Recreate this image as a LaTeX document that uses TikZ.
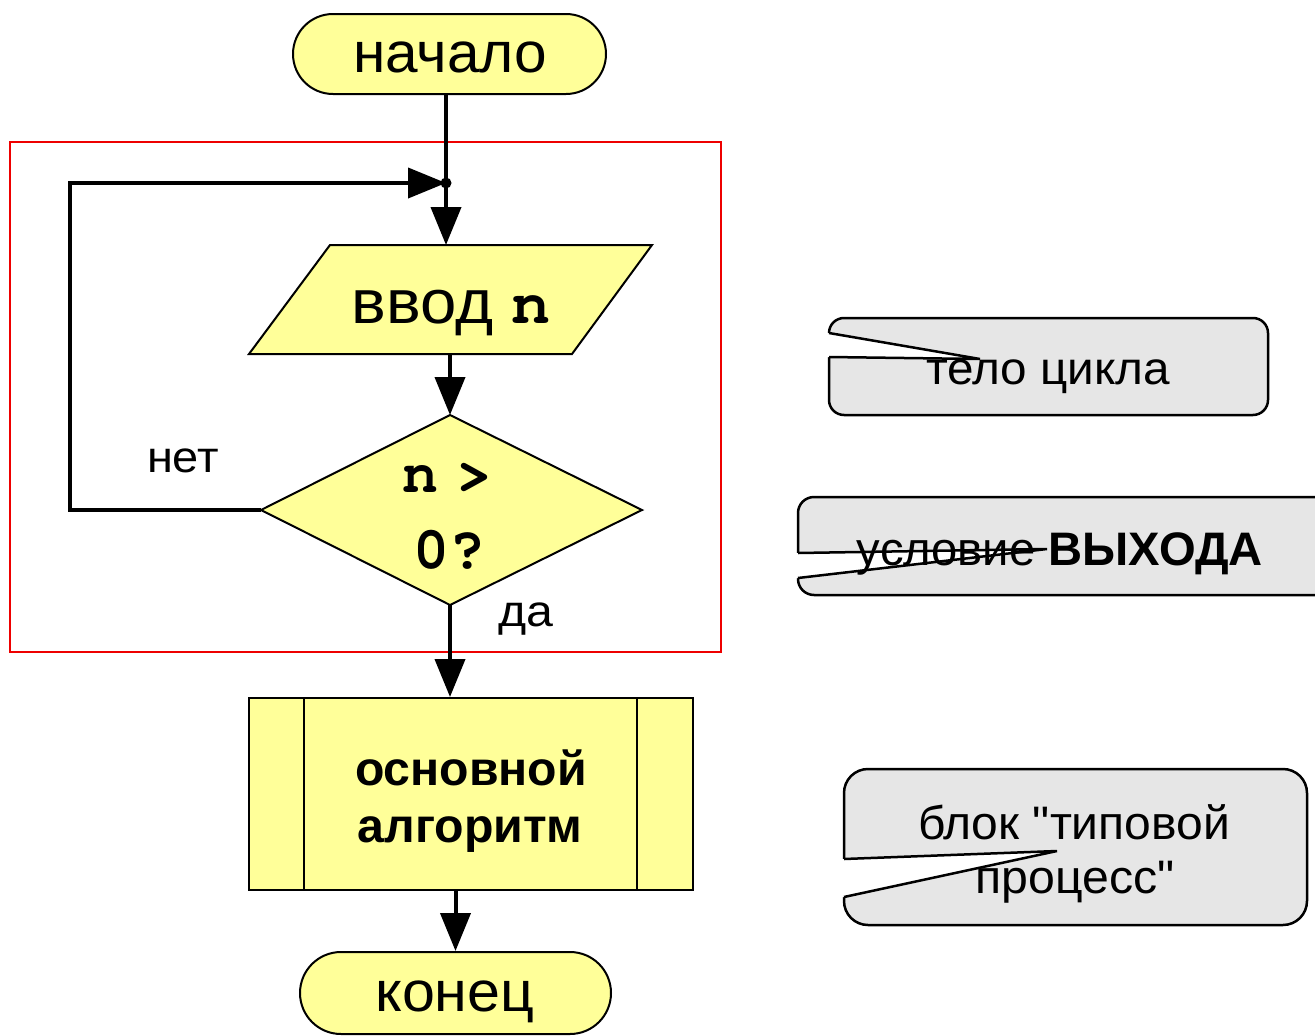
\documentclass[tikz,border=0pt]{standalone}
\usepackage{fontspec}
\setmainfont{Liberation Sans}
\setmonofont{Liberation Mono}
\newfontfamily\plainsans{Liberation Sans}
\newfontfamily\cour{TeX Gyre Cursor}
\usepackage{graphicx}
\usetikzlibrary{arrows.meta}
\definecolor{fy}{HTML}{FFFF99}
\definecolor{cg}{HTML}{E6E6E6}
\definecolor{fr}{HTML}{EE0000}
\newcommand\fitw[3]{\resizebox{#2pt}{\height}{\fontsize{#1pt}{#1pt}\selectfont #3}}
\newcommand\fsz[2]{{\fontsize{#1pt}{#1pt}\selectfont #2}}
\begin{document}
\begin{tikzpicture}[x=1pt,y=-1pt,
  conn/.style={line width=4pt,-{Triangle[length=38pt,width=30pt]}},
  plainconn/.style={line width=4pt},
  shapeline/.style={draw=black,line width=2pt,fill=fy},
  txt/.style={anchor=base,inner sep=0pt},
  callout/.style={draw=black,line width=2.5pt,fill=cg},
  notchline/.style={draw=black,line width=2.5pt},
  notchfill/.style={fill=white}]
\useasboundingbox (0,0) rectangle (1315,1036);
\clip (0,0) rectangle (1315,1036);
\fill[white] (0,0) rectangle (1315,1036);

% red frame
\draw[fr,line width=1.5pt] (10,142) rectangle (721,652);

% start terminator
\node[shapeline,rounded corners=40pt,minimum width=313pt,minimum height=80pt,inner sep=0pt] (start) at (449.5,54) {};
\node[txt] (tstart) at (450,72) {\fitw{57}{194}{начало}};

% junction
\coordinate (j) at (446,183);
\coordinate (lp) at (70,183);

% input parallelogram
\draw[shapeline] (330,245) -- (652,245) -- (572,354) -- (249,354) -- cycle;
\coordinate (pin) at (446,245);
\coordinate (pout) at (450,354);
\node[txt] (tin) at (451,323) {\fitw{62}{199}{ввод {\cour\bfseries n}}};

% decision diamond
\draw[shapeline] (450,415) -- (642,510) -- (450,605) -- (261,510) -- cycle;
\coordinate (dt) at (450,415);
\coordinate (dl) at (261,510);
\coordinate (db) at (450,605);
\node[txt] (tcond1) at (447,492) {\fsz{60}{\cour\bfseries n\kern18pt>}};
\node[txt] (tcond2) at (449,568) {\fsz{60}{\cour\bfseries 0?}};
\node[txt] (tno) at (183,472) {\fitw{44}{72}{нет}};
\node[txt] (tyes) at (526,626) {\fitw{44}{55}{да}};

% process box
\node[shapeline,minimum width=444pt,minimum height=192pt,inner sep=0pt] (proc) at (471,794) {};
\draw[line width=2pt] (304,698) -- (304,890);
\draw[line width=2pt] (637,698) -- (637,890);
\node[txt] (tp1) at (471,785) {\fitw{48}{232}{\bfseries основной}};
\node[txt] (tp2) at (470,842) {\fitw{48}{225}{\bfseries алгоритм}};

% stop terminator
\node[shapeline,rounded corners=41pt,minimum width=311pt,minimum height=82pt,inner sep=0pt] (stop) at (455.5,993) {};
\node[txt] (tstop) at (455,1011) {\fitw{57}{159}{конец}};

% connectors
\draw[plainconn] (j |- start.south) -- (j);
\fill (j) circle (5.5);
\draw[conn] (j) -- (pin);
\draw[conn] (pout) -- (dt);
\draw[conn] (dl) -| (lp) -- (j);
\draw[conn] (db) -- (db |- proc.north);
\draw[conn] (stop.north |- proc.south) -- (stop.north);

% callout 1
\draw[callout,rounded corners=15pt] (829,318) rectangle (1268,415);
\fill[notchfill] (820,333) -- (829,333) -- (980,359) -- (829,357) -- (820,357) -- cycle;
\draw[notchline] (829,333) -- (980,359) -- (829,357);
\node[txt] (tc1) at (1048,384) {\fitw{46}{244}{тело цикла}};

% callout 2
\draw[callout,rounded corners=16pt] (798,497) rectangle (1345,595);
\fill[notchfill] (790,553) -- (798,553) -- (1047,549) -- (798,578) -- (790,578) -- cycle;
\draw[notchline] (798,553) -- (1047,549) -- (798,578);
\node[txt] (tc2) at (1060,565) {\fitw{47}{406}{условие \textbf{ВЫХОДА}}};

% callout 3
\draw[callout,rounded corners=24pt] (844,769) rectangle (1307,925);
\fill[notchfill] (836,859) -- (844,859) -- (1057,851) -- (844,897) -- (836,897) -- cycle;
\draw[notchline] (844,859) -- (1057,851) -- (844,897);
\node[txt] (tc3a) at (1074,839) {\fitw{47}{312}{\plainsans блок "типовой}};
\node[txt] (tc3b) at (1075,893) {\fitw{47}{199}{\plainsans процесс"}};
\end{tikzpicture}
\end{document}
